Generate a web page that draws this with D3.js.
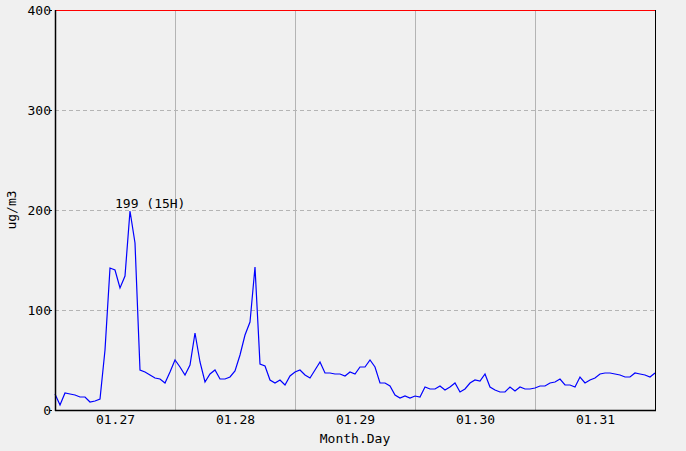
<!DOCTYPE html>
<html><head><meta charset="utf-8">
<script src="https://cdn.jsdelivr.net/npm/d3@7"></script>
<style>
html,body{margin:0;padding:0;background:#f0f0f0;}
svg{display:block;font-family:"DejaVu Sans Mono",monospace;}
</style></head>
<body><svg id="c" width="686" height="451"></svg>
<script>
const days = ["01.27","01.28","01.29","01.30","01.31"];
const yTicks = [0,100,200,300,400];
// hourly values (ug/m3), hour 0 of 01.27 through hour 0 of 02.01
const values = [
 16,5,17,16,15,13,13,8,9,11,60,142,140,122,134,199,167,40,38,35,32,31,27,38,
 50,43,35,45,77,48,28,36,40,31,31,33,39,55,75,88,143,46,44,30,27,30,25,34,
 38,40,35,32,40,48,37,37,36,36,34,38,36,43,43,50,43,27,27,24,15,12,14,12,
 14,13,23,21,21,24,20,23,27,18,21,27,30,29,36,23,20,18,18,23,19,23,21,21,
 22,24,24,27,28,31,25,25,23,33,27,30,32,36,37,37,36,35,33,33,37,36,35,33,37
];
const peakLabel = "199 (15H)";

const svg = d3.select("#c");
const L=55,R=655,T=10,B=410;
const x = d3.scaleLinear().domain([0,120]).range([L,R]);
const y = d3.scaleLinear().domain([0,400]).range([B,T]);

// horizontal dashed grid
svg.append("g").selectAll("line").data(yTicks.filter(d=>d>0&&d<400)).join("line")
  .attr("x1",L).attr("x2",R).attr("y1",d=>y(d)+0.5).attr("y2",d=>y(d)+0.5)
  .attr("stroke","#b4b4b4").attr("stroke-dasharray","4,3");
// vertical day grid
svg.append("g").selectAll("line").data([24,48,72,96]).join("line")
  .attr("x1",d=>x(d)+0.5).attr("x2",d=>x(d)+0.5).attr("y1",T).attr("y2",B)
  .attr("stroke","#b4b4b4");

// y axis labels
const ya = svg.append("g").attr("transform",`translate(${L},0)`)
  .call(d3.axisLeft(y).tickValues(yTicks).tickSize(0).tickPadding(4).tickFormat(d3.format("d")));
ya.select(".domain").remove();
ya.selectAll("text").attr("font-size",13).attr("font-family","DejaVu Sans Mono").attr("fill","#000");
// small ticks
svg.append("g").selectAll("line").data(yTicks).join("line")
  .attr("x1",L-5).attr("x2",L-3).attr("y1",d=>y(d)+0.5).attr("y2",d=>y(d)+0.5).attr("stroke","#000");

// x axis labels (centered in each day)
const xa = svg.append("g").attr("transform",`translate(0,${B})`)
  .call(d3.axisBottom(x).tickValues(days.map((d,i)=>i*24+12)).tickSize(0).tickPadding(5)
    .tickFormat((d)=>days[(d-12)/24]));
xa.select(".domain").remove();
xa.selectAll("text").attr("font-size",13).attr("font-family","DejaVu Sans Mono").attr("fill","#000");

// line
const line = d3.line().x((d,i)=>x(i)).y(d=>y(d));
svg.append("path").datum(values).attr("d",line).attr("fill","none")
  .attr("stroke","#0000ff").attr("stroke-width",1.2);

// frame
svg.append("line").attr("x1",L).attr("x2",R).attr("y1",T+0.5).attr("y2",T+0.5).attr("stroke","#ff0000");
svg.append("line").attr("x1",R+0.5).attr("x2",R+0.5).attr("y1",T).attr("y2",B+1).attr("stroke","#000");
svg.append("line").attr("x1",L+0.5).attr("x2",L+0.5).attr("y1",T).attr("y2",B+1).attr("stroke","#000").attr("stroke-width",1.5);
svg.append("line").attr("x1",L).attr("x2",R+1).attr("y1",B+0.5).attr("y2",B+0.5).attr("stroke","#000").attr("stroke-width",1.5);

// peak label
const pi = values.indexOf(d3.max(values));
svg.append("text").attr("x",x(pi)-15).attr("y",y(values[pi])-3)
  .attr("font-size",13).text(peakLabel);

// axis titles
svg.append("text").attr("x",(L+R)/2).attr("y",443).attr("text-anchor","middle")
  .attr("font-size",13).text("Month.Day");
svg.append("text").attr("transform",`translate(16,${(T+B)/2}) rotate(-90)`)
  .attr("text-anchor","middle").attr("font-size",13).text("ug/m3");
</script></body></html>
